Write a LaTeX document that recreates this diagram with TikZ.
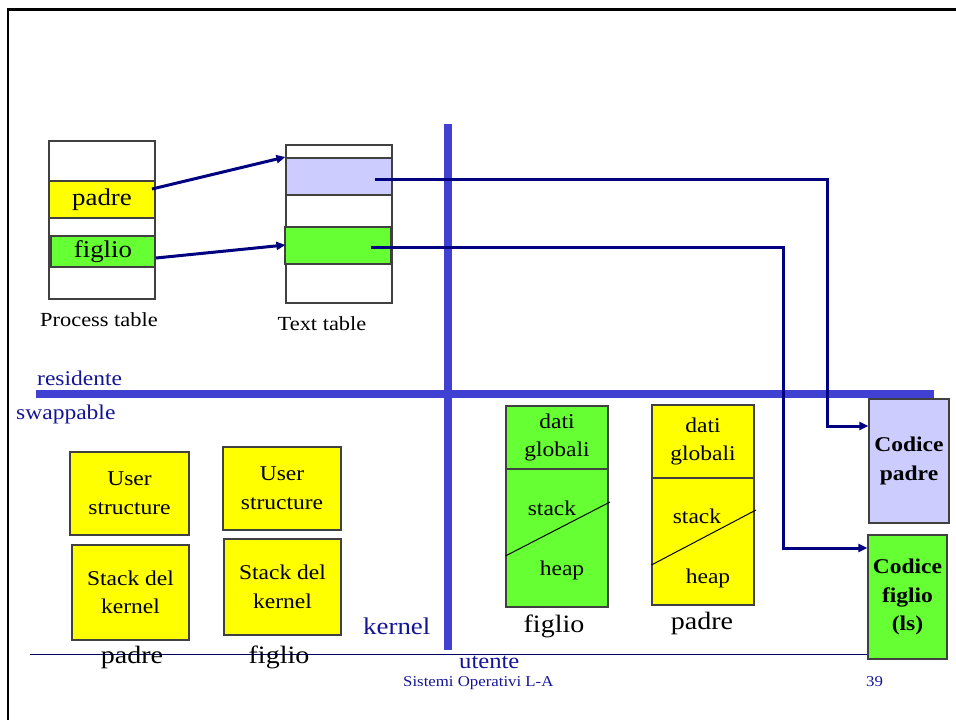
\documentclass[tikz,border=0pt]{standalone}
\usepackage{fontspec}
\setmainfont[FakeStretch=1.12]{Liberation Serif}
\usetikzlibrary{arrows.meta}
\definecolor{yel}{RGB}{255,255,0}
\definecolor{grn}{RGB}{102,255,51}
\definecolor{lblue}{RGB}{204,204,255}
\definecolor{navyc}{RGB}{0,0,128}
\definecolor{sepblue}{RGB}{64,64,210}
\definecolor{txtblue}{RGB}{20,20,150}
\tikzset{
  cell/.style={draw=black!75, line width=1.2pt, inner sep=0pt, align=center, text=black},
  conn/.style={draw=navyc, line width=3pt},
  tip/.style={-{Triangle[length=9pt,width=8pt]}},
  sep/.style={draw=sepblue, line width=7.5pt},
  lbl/.style={inner sep=0pt, anchor=base, text=black},
  blbl/.style={inner sep=0pt, anchor=base west, text=txtblue},
}
\newcommand{\fs}[1]{\fontsize{#1}{1.36\dimexpr#1pt\relax}\selectfont}
\begin{document}
\begin{tikzpicture}[x=1pt,y=-1pt]
\useasboundingbox (0,0) rectangle (956,720);
% frame
\draw[black, line width=2.6pt] (8,720) -- (8,9.5) -- (956,9.5);
% separators
\draw[sep] (448,124) -- (448,650);
\draw[sep] (36,394) -- (934,394);
% footer line
\draw[draw=navyc!80!black, line width=1.3pt] (30,654.5) -- (868,654.5);
% process table
\node[cell, minimum width=106pt, minimum height=158pt] (pt) at (102,220) {};
\node[cell, fill=yel, minimum width=106pt, minimum height=37pt, font=\fs{24}] (ppadre) at (102,199.5) {padre};
\node[cell, fill=grn, minimum width=104pt, minimum height=31pt, font=\fs{24}] (pfiglio) at (103,251.5) {figlio};
\node[lbl, font=\fs{20}] (ptl) at (99,326) {Process table};
% text table
\node[cell, minimum width=106pt, minimum height=158pt] (tt) at (339,224) {};
\node[cell, fill=lblue, minimum width=106pt, minimum height=37pt] (tpadre) at (339,176.5) {};
\node[cell, fill=grn, minimum width=106pt, minimum height=37pt] (tfiglio) at (338,245.5) {};
\node[lbl, font=\fs{20}] (ttl) at (322,330) {Text table};
% codice boxes
\node[cell, fill=lblue, minimum width=80pt, minimum height=124pt, font=\bfseries\fs{21}] (cpadre) at (909,461) {Codice\\padre};
\node[cell, fill=grn, minimum width=79pt, minimum height=124pt, font=\bfseries\fs{21}] (cfiglio) at (907.5,597) {Codice\\figlio\\(ls)};
% arrows process -> text table
\coordinate (a1) at (152,189);
\coordinate (a2) at (156,258);
\draw[conn, tip] (a1) -- (tt.west |- 0,157);
\draw[conn, tip] (a2) -- (tt.west |- 0,245);
% text table -> codice
\coordinate (b1) at (375,179);
\coordinate (b2) at (371,247);
\coordinate (k1) at (827,179);
\coordinate (k2) at (783.5,247);
\draw[conn, tip] (b1) -- (k1) |- (cpadre.west |- 0,426);
\draw[conn, tip] (b2) -- (k2) |- (cfiglio.west |- 0,548);
% labels
\node[blbl, font=\fs{21}] (res) at (37,385) {residente};
\node[blbl, font=\fs{21}] (swp) at (16,419) {swappable};
\node[blbl, font=\fs{24}] (ker) at (363,634) {kernel};
\node[blbl, font=\fs{22}] (ute) at (459,668) {utente};
\node[blbl, font=\fs{15}] (sis) at (403,686) {Sistemi Operativi L-A};
\node[blbl, font=\fs{15}] (num) at (866,686) {39};
% kernel boxes
\node[cell, fill=yel, minimum width=119pt, minimum height=83pt, font=\fs{21}] (usp) at (129.5,493.5) {User\\structure};
\node[cell, fill=yel, minimum width=117pt, minimum height=95pt, font=\fs{21}] (skp) at (130.5,592.5) {Stack del\\kernel};
\node[cell, fill=yel, minimum width=118pt, minimum height=83pt, font=\fs{21}] (usf) at (282,488.5) {User\\structure};
\node[cell, fill=yel, minimum width=117pt, minimum height=96pt, font=\fs{21}] (skf) at (282.5,587) {Stack del\\kernel};
\node[lbl, font=\fs{25}] (lp) at (132,663) {padre};
\node[lbl, font=\fs{25}] (lf) at (279,663) {figlio};
% user data: figlio
\node[cell, fill=grn, minimum width=102pt, minimum height=63pt, font=\fs{21}] (fdg) at (557,437.5) {dati\\globali};
\node[cell, fill=grn, minimum width=102pt, minimum height=138pt] (fsh) at (557,538) {};
\draw[black, line width=1pt] (fsh.west |- 0,556) -- (610,502);
\node[lbl, font=\fs{21}] (fst) at (552,515) {stack};
\node[lbl, font=\fs{21}] (fhe) at (562,575) {heap};
\node[lbl, font=\fs{25}] (flb) at (554,632) {figlio};
% user data: padre
\node[cell, fill=yel, minimum width=102pt, minimum height=73pt, font=\fs{21}] (pdg) at (703,441.5) {dati\\globali};
\node[cell, fill=yel, minimum width=102pt, minimum height=127pt] (psh) at (703,541.5) {};
\draw[black, line width=1pt] (psh.west |- 0,565) -- (756,510);
\node[lbl, font=\fs{21}] (pst) at (697,523) {stack};
\node[lbl, font=\fs{21}] (phe) at (708,583) {heap};
\node[lbl, font=\fs{25}] (plb) at (702,629) {padre};
\end{tikzpicture}
\end{document}
